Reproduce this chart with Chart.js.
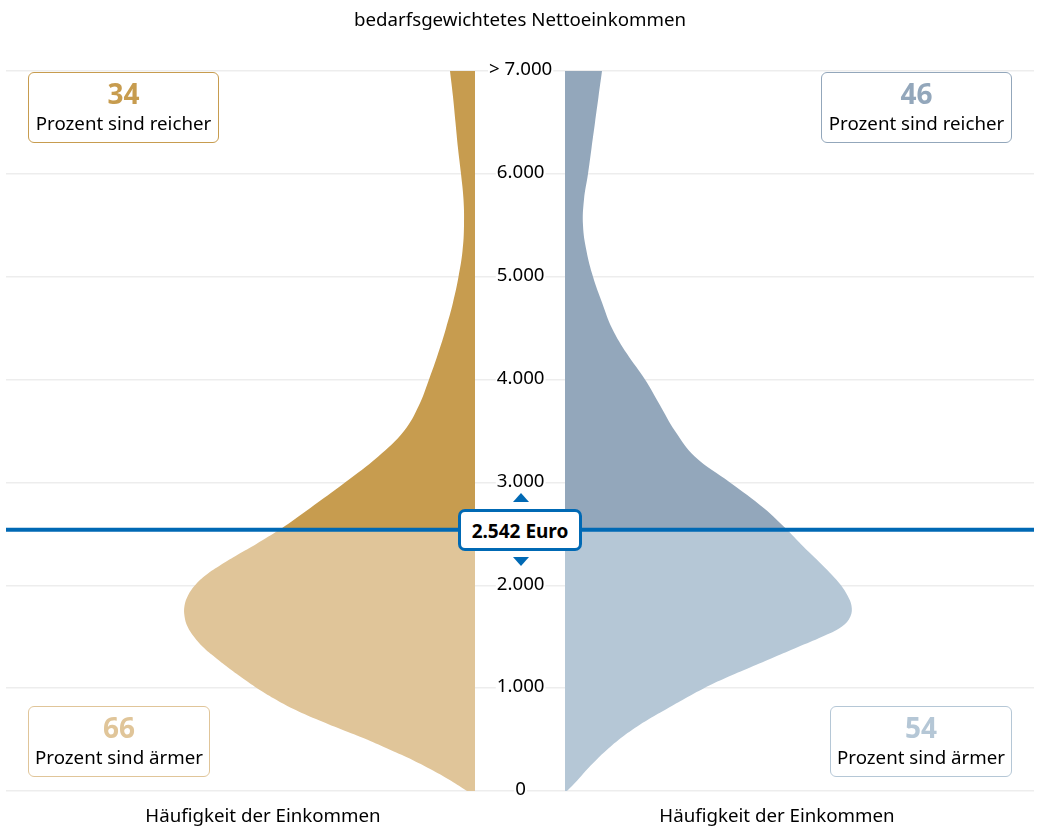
<!DOCTYPE html>
<html lang="de"><head><meta charset="utf-8">
<script src="https://cdn.jsdelivr.net/npm/chart.js@4"></script>
<style>
html,body{margin:0;padding:0;background:#fff}
body{width:1046px;height:832px;position:relative;overflow:hidden;font-family:"Noto Sans",sans-serif;color:#000}
canvas{position:absolute;top:0}
.t{position:absolute;white-space:nowrap;font-size:18.7px;line-height:24px;transform:translateX(-50%)}
.box{position:absolute;box-sizing:border-box;height:71px;border:1px solid;border-radius:6px;background:#fff;text-align:center;font-size:18.7px}
.box b{display:block;font-size:28px;line-height:30px;margin-top:5px}
.box span{display:block;line-height:30px;color:#000}
#badge{position:absolute;left:458px;top:509px;width:124px;height:42px;box-sizing:border-box;border:3px solid #0069b4;border-radius:7px;background:#fff;font-weight:700;font-size:19px;line-height:38px;text-align:center}
.tri{position:absolute;left:513px;width:0;height:0;border-left:8px solid transparent;border-right:8px solid transparent}
</style></head><body>
<canvas id="left" style="left:0" width="565" height="832"></canvas>
<canvas id="right" style="left:565px" width="481" height="832"></canvas>
<div class="t" id="title" style="left:520px;top:7px"></div>
<div class="t" id="axL" style="left:263px;top:803px"></div>
<div class="t" id="axR" style="left:777px;top:803px"></div>
<div class="box" id="b1" style="left:28px;top:72px;width:191px"></div>
<div class="box" id="b2" style="left:28px;top:706px;width:182px"></div>
<div class="box" id="b3" style="left:821px;top:72px;width:191px"></div>
<div class="box" id="b4" style="left:830px;top:706px;width:182px"></div>
<div class="tri" style="top:493px;border-bottom:9px solid #0069b4"></div>
<div class="tri" style="top:557px;border-top:9px solid #0069b4"></div>
<div id="badge"></div>
<script>
const chartTitle = 'bedarfsgewichtetes Nettoeinkommen';
const axisTitle = 'Häufigkeit der Einkommen';
const tickLabels = ['0','1.000','2.000','3.000','4.000','5.000','6.000','> 7.000'];
const medianIncome = 2542;
const medianLabel = '2.542 Euro';
const boxReicher = 'Prozent sind reicher';
const boxAermer = 'Prozent sind ärmer';
const sharesLeft = [34, 66];
const sharesRight = [46, 54];

const poorIncome = [0,100,200,300,400,500,600,700,800,900,1000,1100,1200,1300,1400,1500,1600,1700,1800,1900,2000,2100,2200,2300,2400,2542];
const richIncome = [2542,2750,3000,3250,3500,3750,4000,4250,4500,4750,5000,5250,5500,5750,6000,6250,6500,6750,7000];
const leftPoorFreq  = [8,24,42,62,85,108,134,159,182,201,218,233,247,260,272,281,287.5,290.5,290.5,287,280,269,254,237,219,195];
const leftRichFreq  = [195,165,130,97,71,56,46,37,29,22,16.5,12.5,11,11.5,14,17,19.5,22,25];
const rightPoorFreq = [2,12,21,31,42,54,68,84,102,120,139,161,185,209,233,257,277,285.5,286.5,282.5,276,267,257,246.5,236,222];
const rightRichFreq = [222,199,165,130,110,95,80,62,47,37,28,21.5,18,19,23,26.5,30,33.5,37];

const colors = {tanDark:'#c79c4f',tanLight:'#e0c599',blueDark:'#93a7bb',blueLight:'#b5c7d6',line:'#0069b4',grid:'#ededed'};
const font = 'Noto Sans';
Chart.defaults.font.family = font;

const pts = (ys,xs) => ys.map((y,i)=>({x:xs[i],y}));
const ds = (ys,xs,c,label) => ({label,data:pts(ys,xs),backgroundColor:c,borderWidth:0,pointRadius:0,fill:'origin',tension:0.4});

const medianLine = { id:'medianLine', afterDatasetsDraw(chart){
  const y = chart.scales.y.getPixelForValue(medianIncome)+0.3, c = chart.ctx;
  const area = chart.chartArea;
  c.save(); c.strokeStyle = colors.line; c.lineWidth = 4; c.beginPath();
  const isLeft = chart.canvas.id==='left';
  c.moveTo(isLeft?area.left:0,y); c.lineTo(isLeft?chart.width:area.right,y); c.stroke(); c.restore();
}};

function make(id,reverse,datasets,yScale,padding){
  return new Chart(document.getElementById(id),{
    type:'line',
    data:{datasets},
    plugins:[medianLine],
    options:{
      indexAxis:'y',responsive:false,animation:false,
      layout:{padding},
      plugins:{legend:{display:false},tooltip:{enabled:false},title:{display:false}},
      scales:{
        x:{type:'linear',display:false,min:0,max:469,reverse},
        y:yScale
      }
    }
  });
}
const yBase = {type:'linear',min:0,max:7000,border:{display:false}};
make('left',true,[
  ds(poorIncome,leftPoorFreq,colors.tanLight,'ärmer'),
  ds(richIncome,leftRichFreq,colors.tanDark,'reicher')
],{...yBase,position:'right',
  afterFit(s){s.width=90},
  grid:{color:colors.grid,lineWidth:1.5,drawTicks:true,tickLength:90,tickColor:colors.grid,tickWidth:1.5},
  ticks:{stepSize:1000,autoSkip:false,crossAlign:'center',padding:-76,labelOffset:-1,color:'#000',font:{size:18.7},
    showLabelBackdrop:true,backdropColor:'#fff',backdropPadding:{x:1,y:0},
    callback:v=>tickLabels[v/1000]}
},{left:6,right:0,top:71,bottom:41});
make('right',false,[
  ds(poorIncome,rightPoorFreq,colors.blueLight,'ärmer'),
  ds(richIncome,rightRichFreq,colors.blueDark,'reicher')
],{...yBase,position:'left',
  afterFit(s){s.width=0},
  grid:{color:colors.grid,lineWidth:1.5,drawTicks:false},
  ticks:{display:false,stepSize:1000}
},{left:0,right:12,top:71,bottom:41});

document.getElementById('title').textContent = chartTitle;
document.getElementById('axL').textContent = axisTitle;
document.getElementById('axR').textContent = axisTitle;
document.getElementById('badge').textContent = medianLabel;
function box(id,n,txt,c,bc){const e=document.getElementById(id);e.style.borderColor=bc;e.innerHTML='<b style="color:'+c+'">'+n+'</b><span>'+txt+'</span>';}
box('b1',sharesLeft[0],boxReicher,colors.tanDark,colors.tanDark);
box('b2',sharesLeft[1],boxAermer,colors.tanLight,colors.tanLight);
box('b3',sharesRight[0],boxReicher,colors.blueDark,colors.blueDark);
box('b4',sharesRight[1],boxAermer,colors.blueLight,colors.blueLight);
</script>
</body></html>
